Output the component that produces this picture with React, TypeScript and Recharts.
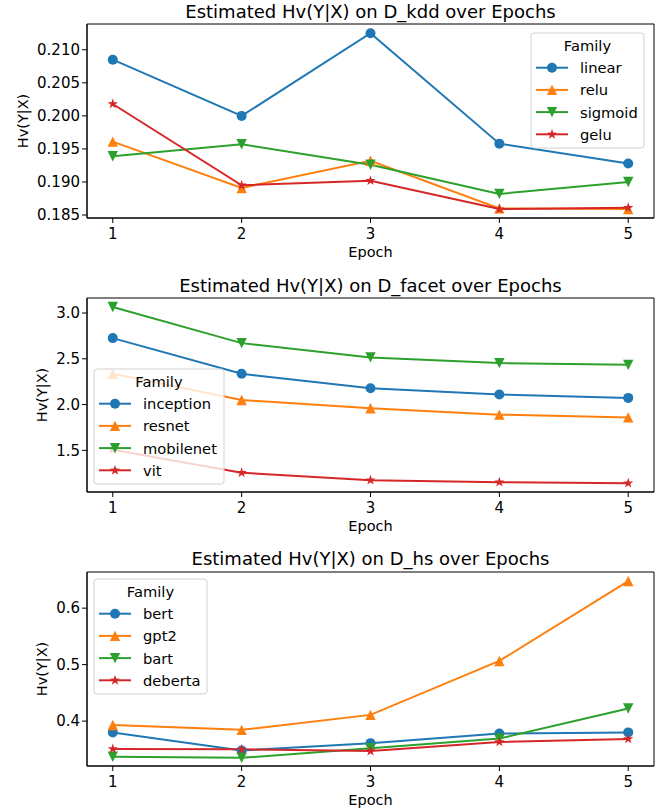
import React from "react";
import { LineChart, Line, XAxis, YAxis, ReferenceArea } from "recharts";

const epochs = [1, 2, 3, 4, 5];

// D_kdd
const kddLinear = [0.2085, 0.2, 0.2125, 0.1958, 0.1928];
const kddRelu = [0.1961, 0.1891, 0.1932, 0.186, 0.1859];
const kddSigmoid = [0.1939, 0.1957, 0.1926, 0.1882, 0.19];
const kddGelu = [0.2018, 0.1895, 0.1902, 0.1859, 0.1861];
const kddTicks = [0.185, 0.19, 0.195, 0.2, 0.205, 0.21];

// D_facet
const facetInception = [2.726, 2.336, 2.179, 2.11, 2.073];
const facetResnet = [2.336, 2.05, 1.96, 1.89, 1.86];
const facetMobilenet = [3.066, 2.671, 2.515, 2.453, 2.434];
const facetVit = [1.507, 1.255, 1.174, 1.152, 1.141];
const facetTicks = [1.5, 2.0, 2.5, 3.0];

// D_hs
const hsBert = [0.38, 0.348, 0.361, 0.378, 0.38];
const hsGpt2 = [0.393, 0.3845, 0.411, 0.5065, 0.648];
const hsBart = [0.337, 0.335, 0.352, 0.369, 0.4224];
const hsDeberta = [0.3507, 0.35, 0.347, 0.363, 0.3685];
const hsTicks = [0.4, 0.5, 0.6];

const COLORS = ["#1f77b4", "#ff7f0e", "#2ca02c", "#d62728"];
const SHAPES = ["circle", "up", "down", "star"];
const FONT = "DejaVu Sans, sans-serif";

type Series = { name: string; values: number[] };

const Marker = ({ shape, cx, cy, color }: { shape: string; cx: number; cy: number; color: string }) => {
  const s = 5.2;
  if (shape === "circle") return <circle cx={cx} cy={cy} r={5} fill={color} />;
  if (shape === "up")
    return <polygon points={`${cx},${cy - s} ${cx - s},${cy + s} ${cx + s},${cy + s}`} fill={color} />;
  if (shape === "down")
    return <polygon points={`${cx},${cy + s} ${cx - s},${cy - s} ${cx + s},${cy - s}`} fill={color} />;
  const pts: string[] = [];
  for (let i = 0; i < 10; i++) {
    const r = i % 2 === 0 ? 5.4 : 2.1;
    const a = -Math.PI / 2 + (i * Math.PI) / 5;
    pts.push(`${cx + r * Math.cos(a)},${cy + r * Math.sin(a)}`);
  }
  return <polygon points={pts.join(" ")} fill={color} />;
};

const FamilyLegend = ({ names, left, top, width }: { names: string[]; left: number; top: number; width: number }) => (
  <svg
    width={width + 2}
    height={117}
    style={{ position: "absolute", left: left - 1, top: top - 1, overflow: "visible" }}
  >
    <rect x={1} y={1} width={width} height={115} rx={3} fill="#fff" fillOpacity={0.8} stroke="#d0d0d0" />
    <text x={1 + width / 2} y={13.7} textAnchor="middle" dominantBaseline="central" fontSize={14.7} fontFamily={FONT}>
      Family
    </text>
    {names.map((n, i) => {
      const y = 35.7 + i * 22.2;
      return (
        <g key={n}>
          <line x1={6} x2={38} y1={y} y2={y} stroke={COLORS[i]} strokeWidth={2} />
          <Marker shape={SHAPES[i]} cx={22} cy={y} color={COLORS[i]} />
          <text x={50} y={y} dominantBaseline="central" fontSize={14.7} fontFamily={FONT}>
            {n}
          </text>
        </g>
      );
    })}
  </svg>
);

type PanelProps = {
  title: string;
  series: Series[];
  domain: [number, number];
  ticks: number[];
  digits: number;
  height: number;
  plotTop: number;
  titleY: number;
  ylabelX: number;
  legend: { left: number; top: number; width: number };
};

const Panel = ({ title, series, domain, ticks, digits, height, plotTop, titleY, ylabelX, legend }: PanelProps) => {
  const plotH = 194;
  const rows = epochs.map((e, i) => {
    const row: Record<string, number> = { epoch: e };
    series.forEach((s) => (row[s.name] = s.values[i]));
    return row;
  });
  const tickStyle = { fontSize: 15, fill: "#000", fontFamily: FONT };
  return (
    <div style={{ position: "relative", width: 662, height }}>
      <div
        style={{
          position: "absolute",
          left: 87,
          width: 567,
          top: titleY - 12,
          height: 24,
          lineHeight: "24px",
          textAlign: "center",
          fontSize: 18,
          fontFamily: FONT,
        }}
      >
        {title}
      </div>
      <LineChart width={662} height={height} data={rows} margin={{ top: plotTop, right: 8, bottom: 0, left: 0 }}>
        <XAxis
          dataKey="epoch"
          type="number"
          domain={[0.8, 5.2]}
          ticks={epochs}
          allowDataOverflow
          height={height - plotTop - plotH}
          tick={tickStyle}
          tickSize={5}
          tickMargin={5}
          stroke="#000"
          label={{
            content: (p: any) => (
              <text
                x={p.viewBox.x + p.viewBox.width / 2}
                y={p.viewBox.y + 34}
                textAnchor="middle"
                dominantBaseline="central"
                fontSize={14.5}
                fontFamily={FONT}
              >
                Epoch
              </text>
            ),
          }}
        />
        <YAxis
          type="number"
          domain={domain}
          ticks={ticks}
          allowDataOverflow
          width={87}
          tick={tickStyle}
          tickSize={5}
          tickMargin={2}
          stroke="#000"
          tickFormatter={(v: number) => v.toFixed(digits)}
          label={{
            content: (p: any) => {
              const cy = p.viewBox.y + p.viewBox.height / 2;
              return (
                <text
                  x={ylabelX}
                  y={cy}
                  transform={`rotate(-90 ${ylabelX} ${cy})`}
                  textAnchor="middle"
                  dominantBaseline="central"
                  fontSize={14.5}
                  fontFamily={FONT}
                >
                  Hv(Y|X)
                </text>
              );
            },
          }}
        />
        <ReferenceArea x1={0.8} x2={5.2} y1={domain[0]} y2={domain[1]} fill="none" stroke="#000" strokeWidth={1} />
        {series.map((s, i) => (
          <Line
            key={s.name}
            dataKey={s.name}
            type="linear"
            stroke={COLORS[i]}
            strokeWidth={2}
            isAnimationActive={false}
            activeDot={false}
            dot={(d: any) => (
              <Marker key={`${s.name}-${d.index}`} shape={SHAPES[i]} cx={d.cx} cy={d.cy} color={COLORS[i]} />
            )}
          />
        ))}
      </LineChart>
      <FamilyLegend names={series.map((s) => s.name)} {...legend} />
    </div>
  );
};

export default function App() {
  return (
    <div style={{ position: "absolute", left: 0, top: 0, width: 662, height: 812, background: "#fff" }}>
      <Panel
        title="Estimated Hv(Y|X) on D_kdd over Epochs"
        series={[
          { name: "linear", values: kddLinear },
          { name: "relu", values: kddRelu },
          { name: "sigmoid", values: kddSigmoid },
          { name: "gelu", values: kddGelu },
        ]}
        domain={[0.18455, 0.2139]}
        ticks={kddTicks}
        digits={3}
        height={270}
        plotTop={24}
        titleY={12}
        ylabelX={23}
        legend={{ left: 531, top: 33, width: 113 }}
      />
      <Panel
        title="Estimated Hv(Y|X) on D_facet over Epochs"
        series={[
          { name: "inception", values: facetInception },
          { name: "resnet", values: facetResnet },
          { name: "mobilenet", values: facetMobilenet },
          { name: "vit", values: facetVit },
        ]}
        domain={[1.045, 3.164]}
        ticks={facetTicks}
        digits={1}
        height={270}
        plotTop={28}
        titleY={16}
        ylabelX={42}
        legend={{ left: 94, top: 99, width: 130 }}
      />
      <Panel
        title="Estimated Hv(Y|X) on D_hs over Epochs"
        series={[
          { name: "bert", values: hsBert },
          { name: "gpt2", values: hsGpt2 },
          { name: "bart", values: hsBart },
          { name: "deberta", values: hsDeberta },
        ]}
        domain={[0.3205, 0.664]}
        ticks={hsTicks}
        digits={1}
        height={272}
        plotTop={32}
        titleY={19}
        ylabelX={42}
        legend={{ left: 94, top: 39, width: 113 }}
      />
    </div>
  );
}
